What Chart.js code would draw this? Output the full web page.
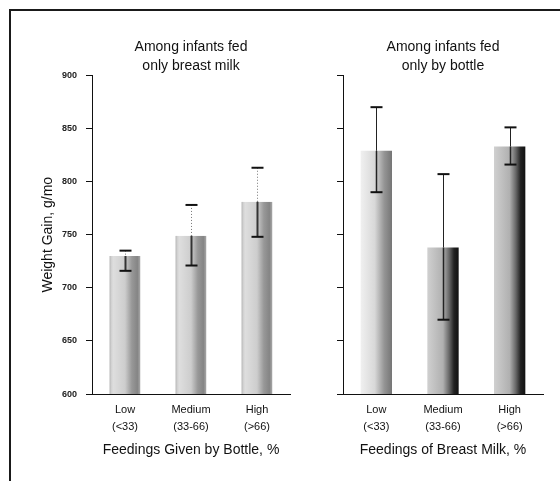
<!DOCTYPE html>
<html>
<head>
<meta charset="utf-8">
<script src="https://cdn.jsdelivr.net/npm/chart.js@4.4.1/dist/chart.umd.min.js"></script>
<style>
  body { margin: 0; background: #fff; }
  #wrap { position: relative; width: 560px; height: 481px; overflow: hidden; }
  #frame { position: absolute; left: 9px; top: 9px; width: 560px; height: 480px;
           border-top: 2px solid #1a1a1a; border-left: 2px solid #1a1a1a; }
  canvas { position: absolute; top: 0; }
</style>
</head>
<body>
<div id="wrap">
  <div id="frame"></div>
  <canvas id="breastChart" width="300" height="481" style="left:0"></canvas>
  <canvas id="bottleChart" width="260" height="481" style="left:300px"></canvas>
</div>
<script>
// Categories (share of feedings)
const bottleShareLabels = [['Low', '(<33)'], ['Medium', '(33-66)'], ['High', '(>66)']];
const breastShareLabels = [['Low', '(<33)'], ['Medium', '(33-66)'], ['High', '(>66)']];
const yTicks = [600, 650, 700, 750, 800, 850, 900];

// Infants fed only breast milk: mean gain and interval bounds, g/mo
const breastOnlyGain = [730, 749, 781];
const breastOnlyLower = [716, 721, 748];
const breastOnlyUpper = [735, 778, 813];

// Infants fed only by bottle
const bottleOnlyGain = [829, 738, 833];
const bottleOnlyLower = [790, 670, 816];
const bottleOnlyUpper = [870, 807, 851];

const font = "'Liberation Sans', Arial, sans-serif";
const barShare = 0.47;

// shaded, cylinder-like fill for each bar
const softShade = [[0, '#c4c4c4'], [0.12, '#dedede'], [0.5, '#cdcdcd'], [0.72, '#989898'], [0.9, '#858585'], [1, '#aaaaaa']];
const lightShade = [[0, '#f0f0f0'], [0.45, '#d8d8d8'], [0.75, '#959595'], [1, '#757575']];
const darkShade = [[0, '#d0d0d0'], [0.5, '#b0b0b0'], [0.7, '#666'], [0.85, '#222'], [1, '#111']];

function barGradient(shades) {
  return (ctx) => {
    const chart = ctx.chart;
    const area = chart.chartArea;
    const stops = shades[ctx.dataIndex];
    if (!area) return stops[0][1];
    const x = chart.scales.x.getPixelForValue(ctx.dataIndex);
    const half = area.width / 3 * barShare / 2;
    const g = chart.ctx.createLinearGradient(x - half, 0, x + half, 0);
    stops.forEach(([at, color]) => g.addColorStop(at, color));
    return g;
  };
}

function segment(ctx, x1, y1, x2, y2) {
  ctx.beginPath();
  ctx.moveTo(x1, y1);
  ctx.lineTo(x2, y2);
  ctx.stroke();
}

// whiskers drawn from the lower/upper bounds through the y scale
const errorBars = {
  id: 'errorBars',
  afterDatasetsDraw(chart, args, opts) {
    const {ctx, scales: {y}} = chart;
    const meta = chart.getDatasetMeta(0);
    ctx.save();
    meta.data.forEach((bar, i) => {
      const x = Math.round(bar.x) + 0.5;
      const top = y.getPixelForValue(opts.upper[i]);
      const low = y.getPixelForValue(opts.lower[i]);
      ctx.strokeStyle = opts.upperColor;
      ctx.lineWidth = 1;
      ctx.setLineDash(opts.upperDash);
      segment(ctx, x, top, x, bar.y);
      ctx.setLineDash([]);
      ctx.strokeStyle = opts.lowerColor;
      ctx.lineWidth = opts.lowerWidth;
      segment(ctx, x, bar.y, x, low);
      ctx.strokeStyle = '#111';
      ctx.lineWidth = 2;
      segment(ctx, x - 6, top, x + 6, top);
      segment(ctx, x - 6, low, x + 6, low);
    });
    ctx.restore();
  }
};

function yAxis(showLabels, width) {
  return {
    min: 600,
    max: 900,
    afterBuildTicks: s => { s.ticks = yTicks.map(v => ({value: v})); },
    afterFit: s => { s.width = width; },
    border: {color: '#111', width: 1},
    grid: {drawOnChartArea: false, drawTicks: true, tickLength: 6, color: '#111'},
    ticks: {display: showLabels, padding: 9, color: '#222', font: {family: font, size: 9, weight: 'bold'}},
    title: showLabels ? {
      display: true, text: 'Weight Gain, g/mo', color: '#111',
      font: {family: font, size: 14}, padding: {top: 40, bottom: 0}
    } : {display: false}
  };
}

function xAxis(title) {
  return {
    border: {color: '#111', width: 1},
    grid: {display: false, drawTicks: false},
    ticks: {padding: 7, color: '#111', maxRotation: 0, font: {family: font, size: 11, lineHeight: 1.55}},
    title: {display: true, text: title, color: '#111', font: {family: font, size: 14, lineHeight: 1.2}, padding: {top: 0, bottom: 22}}
  };
}

function chartTitle(lines) {
  return {
    display: true, text: lines, fullSize: false, color: '#111',
    font: {family: font, size: 14, weight: 'normal', lineHeight: 1.35},
    padding: {top: 0, bottom: 0}
  };
}

new Chart(document.getElementById('breastChart'), {
  type: 'bar',
  data: {
    labels: bottleShareLabels,
    datasets: [{
      data: breastOnlyGain,
      backgroundColor: barGradient([softShade, softShade, softShade]),
      borderColor: '#7a7a7a',
      borderWidth: {left: 1, top: 0, right: 0, bottom: 0},
      barPercentage: barShare,
      categoryPercentage: 1
    }]
  },
  options: {
    responsive: false,
    animation: false,
    layout: {padding: {top: 37.5, right: 10, left: 0, bottom: 0}},
    scales: {x: xAxis('Feedings Given by Bottle, %'), y: yAxis(true, 92)},
    plugins: {
      legend: {display: false},
      tooltip: {enabled: false},
      title: chartTitle(['Among infants fed', 'only breast milk']),
      errorBars: {lower: breastOnlyLower, upper: breastOnlyUpper, upperColor: '#777', upperDash: [1, 2], lowerColor: '#333', lowerWidth: 2}
    }
  },
  plugins: [errorBars]
});

new Chart(document.getElementById('bottleChart'), {
  type: 'bar',
  data: {
    labels: breastShareLabels,
    datasets: [{
      data: bottleOnlyGain,
      backgroundColor: barGradient([lightShade, darkShade, darkShade]),
      borderWidth: 0,
      barPercentage: barShare,
      categoryPercentage: 1
    }]
  },
  options: {
    responsive: false,
    animation: false,
    layout: {padding: {top: 37.5, right: 17, left: 0, bottom: 0}},
    scales: {x: xAxis('Feedings of Breast Milk, %'), y: yAxis(false, 43)},
    plugins: {
      legend: {display: false},
      tooltip: {enabled: false},
      title: chartTitle(['Among infants fed', 'only by bottle']),
      errorBars: {lower: bottleOnlyLower, upper: bottleOnlyUpper, upperColor: '#222', upperDash: [], lowerColor: '#222', lowerWidth: 1.5}
    }
  },
  plugins: [errorBars]
});
</script>
</body>
</html>
